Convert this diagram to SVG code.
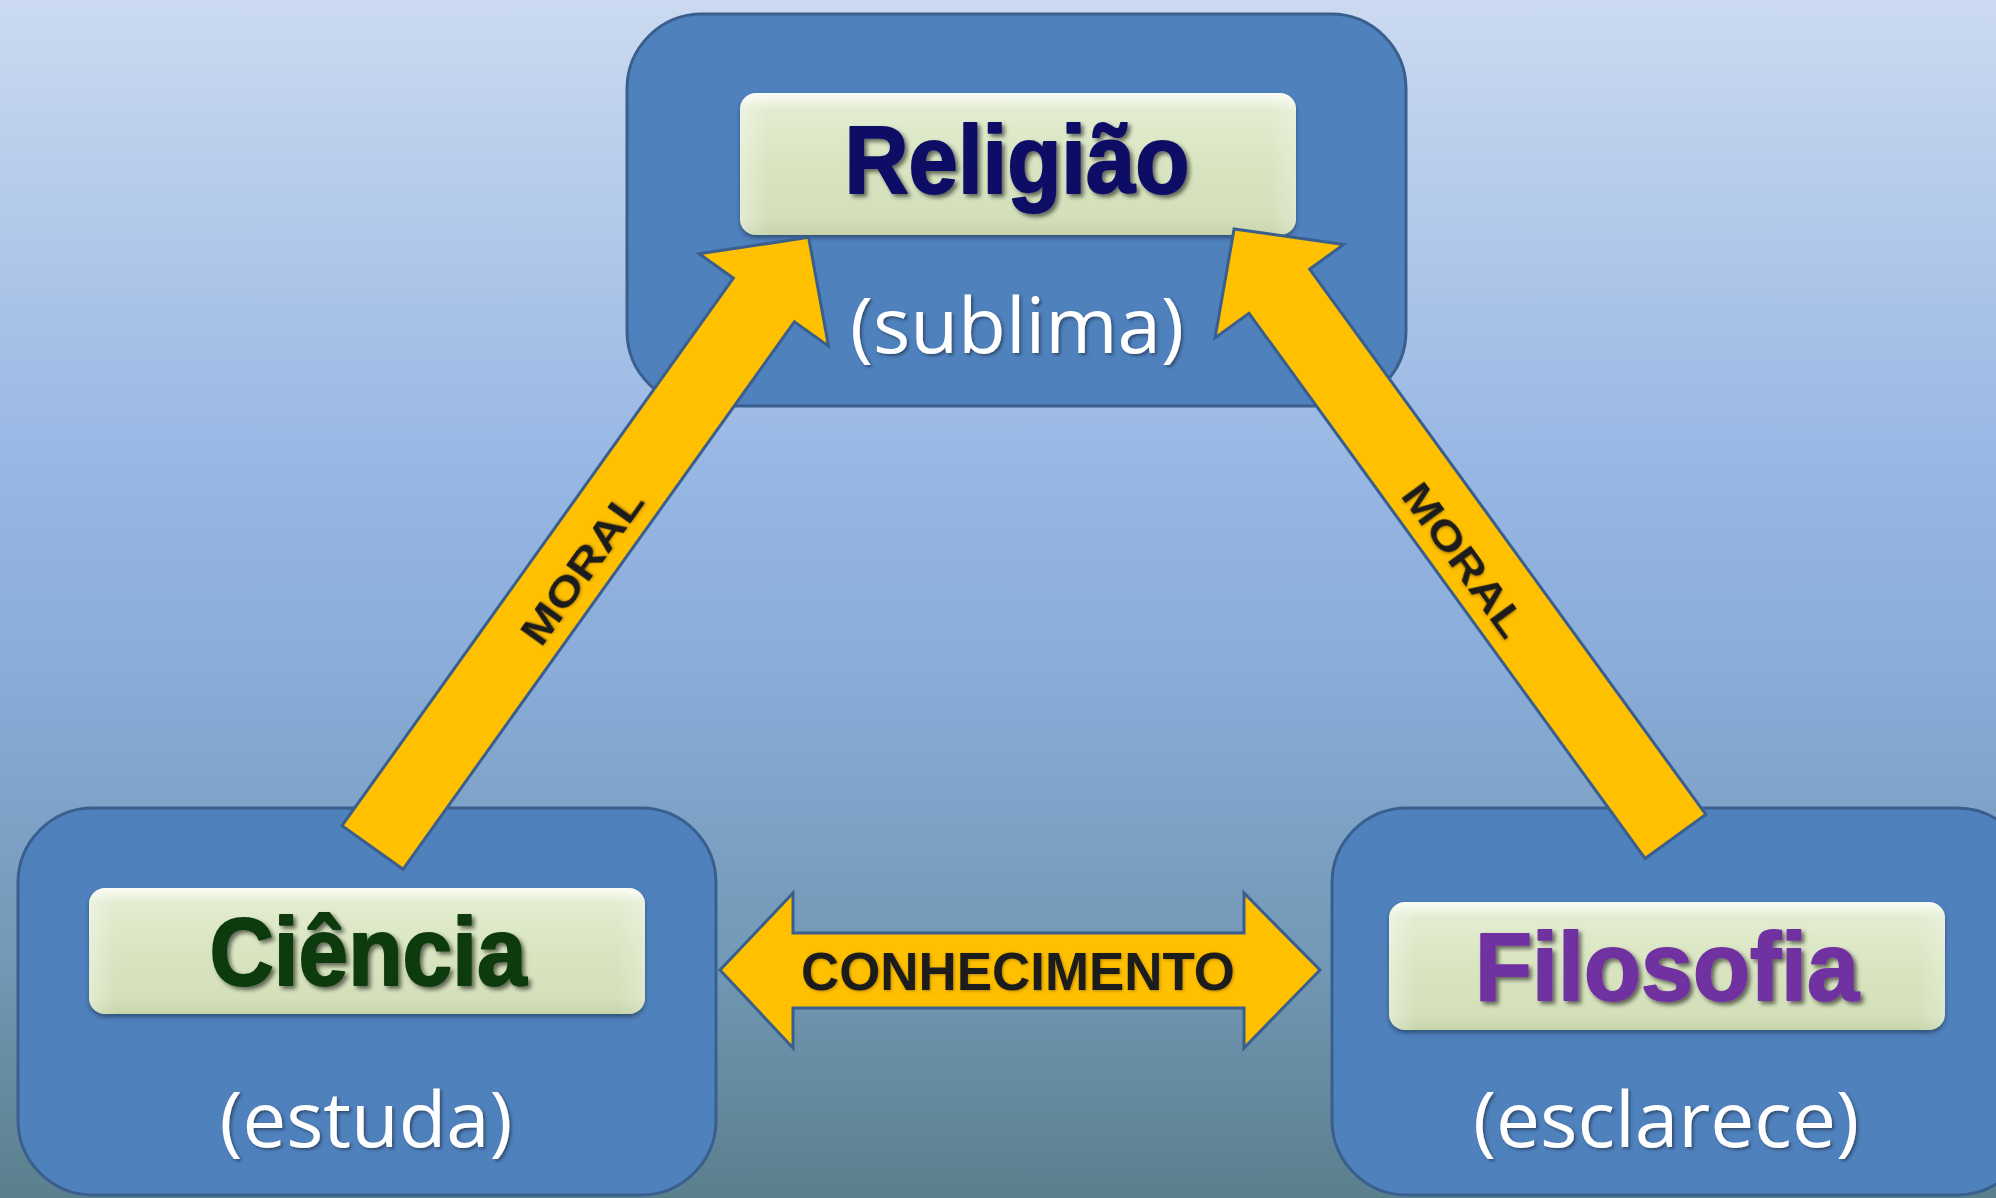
<svg xmlns="http://www.w3.org/2000/svg" width="1996" height="1198" viewBox="0 0 1996 1198">
  <defs>
    <linearGradient id="bg" x1="0" y1="0" x2="0" y2="1">
      <stop offset="0" stop-color="#cbdaf0"/>
      <stop offset="0.4" stop-color="#96b6e3"/>
      <stop offset="0.55" stop-color="#8badda"/>
      <stop offset="0.8" stop-color="#7299b6"/>
      <stop offset="1" stop-color="#5a7f8c"/>
    </linearGradient>
    <linearGradient id="btn" x1="0" y1="0" x2="0" y2="1">
      <stop offset="0" stop-color="#fbfdf6"/>
      <stop offset="0.12" stop-color="#e3ecd0"/>
      <stop offset="0.5" stop-color="#d9e5c1"/>
      <stop offset="0.88" stop-color="#d3e0ba"/>
      <stop offset="1" stop-color="#c7d4ab"/>
    </linearGradient>
    <linearGradient id="btnside" x1="0" y1="0" x2="1" y2="0">
      <stop offset="0" stop-color="#ffffff" stop-opacity="0.35"/>
      <stop offset="0.05" stop-color="#ffffff" stop-opacity="0"/>
      <stop offset="0.95" stop-color="#ffffff" stop-opacity="0"/>
      <stop offset="1" stop-color="#ffffff" stop-opacity="0.25"/>
    </linearGradient>
    <filter id="boxshadow" x="-10%" y="-10%" width="120%" height="130%">
      <feDropShadow dx="0" dy="3" stdDeviation="2" flood-color="#1f3350" flood-opacity="0.6"/>
    </filter>
    <filter id="txtshadow" x="-10%" y="-10%" width="120%" height="130%">
      <feDropShadow dx="3" dy="3" stdDeviation="2" flood-color="#000000" flood-opacity="0.55"/>
    </filter>
    <filter id="subshadow" x="-10%" y="-10%" width="120%" height="130%">
      <feDropShadow dx="2" dy="2" stdDeviation="1.5" flood-color="#1a2a40" flood-opacity="0.6"/>
    </filter>
    <filter id="glow" x="-10%" y="-30%" width="120%" height="160%">
      <feDropShadow dx="1" dy="1" stdDeviation="1.5" flood-color="#6b4a00" flood-opacity="0.5"/>
    </filter>
  </defs>
  <style>
    .outer { fill: #4f81bd; stroke: #3a5f8e; stroke-width: 3; }
    .btn { fill: url(#btn); filter: url(#boxshadow); }
    .btnside { fill: url(#btnside); }
    .head { font-family: "Liberation Sans", "DejaVu Sans", sans-serif; font-weight: bold; font-size: 96px; text-anchor: middle; stroke-linejoin: round; stroke-width: 2; filter: url(#txtshadow); }
    .sub { font-family: "Open Sans", "Noto Sans", sans-serif; font-size: 76px; fill: #ffffff; text-anchor: middle; filter: url(#subshadow); }
    .arrow { fill: #ffc000; stroke: #3a5f8e; stroke-width: 3; stroke-linejoin: miter; }
    .lbl { font-family: "Liberation Sans", "DejaVu Sans", sans-serif; font-weight: bold; fill: #1a1a1a; text-anchor: middle; filter: url(#glow); }
  </style>

  <rect x="0" y="0" width="1996" height="1198" fill="url(#bg)"/>

  <g id="node-religiao">
    <rect class="outer" x="627" y="14" width="779" height="392" rx="75" ry="75"/>
    <rect class="btn" x="740" y="93" width="556" height="142" rx="16" ry="16"/>
    <rect class="btnside" x="740" y="93" width="556" height="142" rx="16" ry="16"/>
    <text class="head" x="1017" y="193" fill="#0c0c66" stroke="#0c0c66" textLength="345" lengthAdjust="spacingAndGlyphs">Religião</text>
    <text class="sub" x="1017" y="353" textLength="334" lengthAdjust="spacingAndGlyphs">(sublima)</text>
  </g>

  <g id="node-ciencia">
    <rect class="outer" x="18" y="808" width="698" height="387" rx="75" ry="75"/>
    <rect class="btn" x="89" y="888" width="556" height="126" rx="16" ry="16"/>
    <rect class="btnside" x="89" y="888" width="556" height="126" rx="16" ry="16"/>
    <text class="head" x="368" y="985" fill="#0b3a0b" stroke="#0b3a0b" textLength="317" lengthAdjust="spacingAndGlyphs">Ciência</text>
    <text class="sub" x="366" y="1147" textLength="293" lengthAdjust="spacingAndGlyphs">(estuda)</text>
  </g>

  <g id="node-filosofia">
    <rect class="outer" x="1332" y="808" width="700" height="387" rx="75" ry="75"/>
    <rect class="btn" x="1389" y="902" width="556" height="128" rx="16" ry="16"/>
    <rect class="btnside" x="1389" y="902" width="556" height="128" rx="16" ry="16"/>
    <text class="head" x="1667" y="1000" fill="#7030a0" stroke="#7030a0" textLength="384" lengthAdjust="spacingAndGlyphs">Filosofia</text>
    <text class="sub" x="1666" y="1147" textLength="386" lengthAdjust="spacingAndGlyphs">(esclarece)</text>
  </g>

  <g id="connectors">
    <g id="edge-ciencia-religiao">
      <path class="arrow" transform="translate(372.5,847.5) rotate(-54.44)" d="M0,-37.5 L673,-37.5 L673,-79.5 L750,0 L673,79.5 L673,37.5 L0,37.5 Z"/>
      <text class="lbl" transform="translate(582,567) rotate(-54.44)" x="0" y="14" font-size="40" textLength="180" lengthAdjust="spacingAndGlyphs">MORAL</text>
    </g>
    <g id="edge-filosofia-religiao">
      <path class="arrow" transform="translate(1675.5,836.5) rotate(-126)" d="M0,-37.5 L674,-37.5 L674,-79.5 L751,0 L674,79.5 L674,37.5 L0,37.5 Z"/>
      <text class="lbl" transform="translate(1464,560) rotate(54)" x="0" y="14" font-size="40" textLength="180" lengthAdjust="spacingAndGlyphs">MORAL</text>
    </g>
    <g id="edge-ciencia-filosofia">
      <path class="arrow" d="M720,970 L793,893 L793,933 L1244,933 L1244,893 L1320,970 L1244,1048 L1244,1008 L793,1008 L793,1048 Z"/>
      <text class="lbl" x="1018" y="990" font-size="53" textLength="434" lengthAdjust="spacingAndGlyphs">CONHECIMENTO</text>
    </g>
  </g>
</svg>
